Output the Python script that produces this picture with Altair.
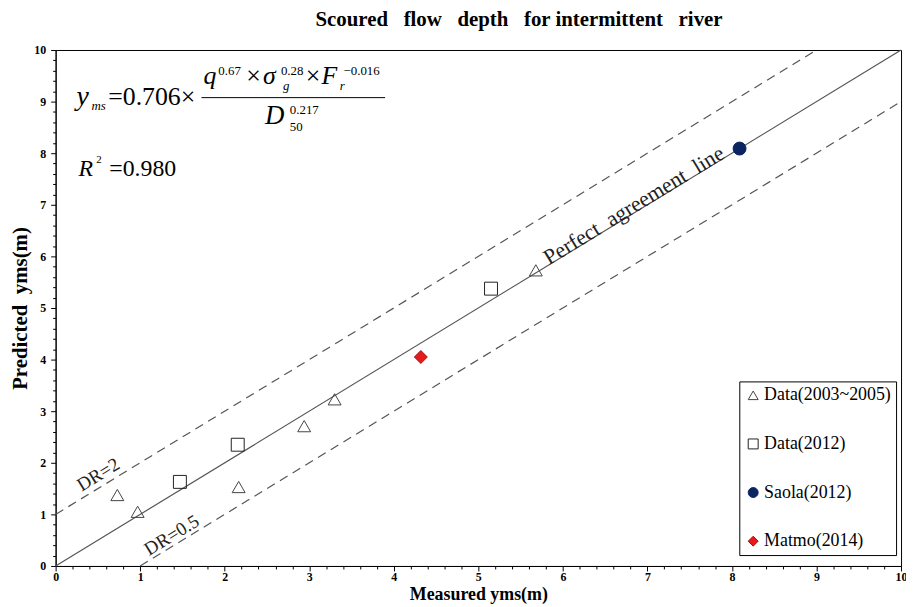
import altair as alt
import pandas as pd

# ---------------- data ----------------
series_names = ["Data(2003~2005)", "Data(2012)", "Saola(2012)", "Matmo(2014)"]

tri_x = [0.73, 0.97, 2.165, 2.94, 3.30, 5.68]
tri_y = [1.375, 1.05, 1.53, 2.71, 3.23, 5.73]
sq_x = [1.47, 2.154, 5.15]
sq_y = [1.63, 2.35, 5.375]
saola_x = [8.09]
saola_y = [8.09]
matmo_x = [4.32]
matmo_y = [4.05]

# reference lines (endpoints)
perfect_x = [0, 10]
perfect_y = [0, 10]
upper_x = [0, 9]
upper_y = [1, 10]
lower_x = [1, 10]
lower_y = [0, 9]

# equation pieces (data coordinates of left/baseline)
eq_text = ["y", "ms", "=0.706×", "q", "0.67", "×", "σ", "0.28", "g", "×", "F", "r", "−0.016",
           "D", "0.217", "50", "R", "2", "=0.980"]
eq_italic = [1, 1, 0, 1, 0, 0, 1, 0, 1, 0, 1, 1, 0, 1, 0, 0, 1, 0, 0]
eq_size = [28, 13, 26, 26, 13, 26, 26, 13, 13, 26, 26, 13, 13, 27, 13, 13, 24, 11, 24]
eq_x = [0.246, 0.423, 0.622, 1.749, 1.925, 2.254, 2.453, 2.665, 2.69, 2.958, 3.146, 3.36, 3.405,
        2.477, 2.77, 2.77, 0.27, 0.481, 0.634]
eq_y = [8.942, 8.846, 8.942, 9.346, 9.519, 9.346, 9.346, 9.519, 9.231, 9.346, 9.346, 9.231, 9.519,
        8.558, 8.769, 8.423, 7.558, 7.808, 7.558]
bar_x = [1.725]
bar_x2 = [3.897]
bar_y = [9.077]

# rotated labels
lab_text = ["Perfect \u00a0agreement \u00a0line", "DR=2", "DR=0.5"]
lab_x = [6.84, 0.505, 1.373]
lab_y = [6.99, 1.77, 0.596]
lab_size = [22, 19, 19]

ticks = [round(i * 0.2, 1) for i in range(51)]

# ---------------- tables ----------------
pts = pd.DataFrame({
    "x": tri_x + sq_x + saola_x + matmo_x,
    "y": tri_y + sq_y + saola_y + matmo_y,
    "series": [series_names[0]] * len(tri_x) + [series_names[1]] * len(sq_x)
    + [series_names[2]] * len(saola_x) + [series_names[3]] * len(matmo_x),
})
lines = pd.DataFrame({
    "x": perfect_x + upper_x + lower_x,
    "y": perfect_y + upper_y + lower_y,
    "line": ["perfect"] * 2 + ["upper"] * 2 + ["lower"] * 2,
})
eq = pd.DataFrame({"text": eq_text, "italic": eq_italic, "size": eq_size, "x": eq_x, "y": eq_y})
bar = pd.DataFrame({"x": bar_x, "x2": bar_x2, "y": bar_y})
labs = pd.DataFrame({"text": lab_text, "x": lab_x, "y": lab_y, "size": lab_size})

FONT = "Liberation Serif"

xscale = alt.Scale(domain=[0, 10], nice=False)
yscale = alt.Scale(domain=[0, 10], nice=False)

tick_cond = {"condition": {"test": "datum.value % 1 === 0", "value": 5}, "value": 3}
lab_expr = "datum.value % 1 === 0 ? format(datum.value, 'd') : ''"

xaxis = alt.Axis(values=ticks, labelExpr=lab_expr,
                 tickSize=tick_cond, labelFlush=False, labelOverlap=False,
                 title="Measured yms(m)", titleFont=FONT, titleFontSize=18, titleFontWeight="bold",
                 titleColor="black", titlePadding=3,
                 labelFont=FONT, labelFontSize=12, labelFontWeight="bold", labelColor="black",
                 labelPadding=1, grid=False, domainColor="black", tickColor="black")
yaxis = alt.Axis(values=ticks, labelExpr=lab_expr,
                 tickSize=tick_cond, labelFlush=False, labelOverlap=False,
                 title="Predicted \u00a0yms(m)", titleFont=FONT, titleFontSize=21, titleFontWeight="bold",
                 titleColor="black", titlePadding=3,
                 labelFont=FONT, labelFontSize=12, labelFontWeight="bold", labelColor="black",
                 labelPadding=5, grid=False, domainColor="black", tickColor="black")

X = alt.X("x:Q", scale=xscale, axis=xaxis)
Y = alt.Y("y:Q", scale=yscale, axis=yaxis)

line_base = alt.Chart(lines).encode(x=X, y=Y)
perfect = line_base.transform_filter("datum.line === 'perfect'").mark_line(
    color="#555555", strokeWidth=1.2)
upper = line_base.transform_filter("datum.line === 'upper'").mark_line(
    color="#555555", strokeWidth=1.2, strokeDash=[9, 6])
lower = line_base.transform_filter("datum.line === 'lower'").mark_line(
    color="#555555", strokeWidth=1.2, strokeDash=[9, 6])

legend = alt.Legend(title=None, orient="none", legendX=689, legendY=334,
                    strokeColor="black", fillColor="white", padding=5,
                    labelFont=FONT, labelFontSize=18, labelColor="black",
                    symbolSize=100, symbolStrokeWidth=1, rowPadding=31, labelOffset=2)

points = alt.Chart(pts).mark_point(filled=True, size=170, strokeWidth=1, opacity=1).encode(
    x=X, y=Y,
    shape=alt.Shape("series:N", scale=alt.Scale(domain=series_names,
                    range=["triangle-up", "square", "circle", "diamond"]), legend=legend),
    fill=alt.Fill("series:N", scale=alt.Scale(domain=series_names,
                  range=["transparent", "transparent", "#0b2560", "#e8191a"]), legend=legend),
    stroke=alt.Stroke("series:N", scale=alt.Scale(domain=series_names,
                      range=["#444444", "#222222", "#0b2560", "#a01010"]), legend=legend),
)

eq_base = alt.Chart(eq).encode(
    x=X, y=Y,
    text="text:N",
    size=alt.Size("size:Q", scale=None),
)
eq_it = eq_base.transform_filter("datum.italic === 1").mark_text(
    font=FONT, fontStyle="italic", align="left", baseline="alphabetic", color="black")
eq_rm = eq_base.transform_filter("datum.italic === 0").mark_text(
    font=FONT, align="left", baseline="alphabetic", color="black")

bar_rule = alt.Chart(bar).mark_rule(color="black", strokeWidth=1).encode(
    x=X, x2="x2:Q", y=Y)

labels = alt.Chart(labs).mark_text(font=FONT, angle=328.6, align="center", baseline="middle",
                                   color="#222222").encode(
    x=X, y=Y,
    text="text:N",
    size=alt.Size("size:Q", scale=None),
)

GAP = " \u00a0\u00a0"
chart = alt.layer(perfect, upper, lower, bar_rule, eq_it, eq_rm, labels, points).properties(
    width=852, height=520,
    autosize=alt.AutoSizeParams(type="none"),
    padding={"left": 48, "top": 40, "right": 5, "bottom": 38},
    title=alt.TitleParams("Scoured" + GAP + "flow" + GAP + "depth" + GAP + "for intermittent" + GAP + "river",
                          font=FONT, fontSize=21, fontWeight="bold", color="black", dx=41,
                          offset=14, anchor="middle"),
).configure_view(stroke="black", strokeWidth=1).configure_axis(domainWidth=1, tickWidth=1)

chart.save("out.html", embed_options={"renderer": "svg", "actions": False})
